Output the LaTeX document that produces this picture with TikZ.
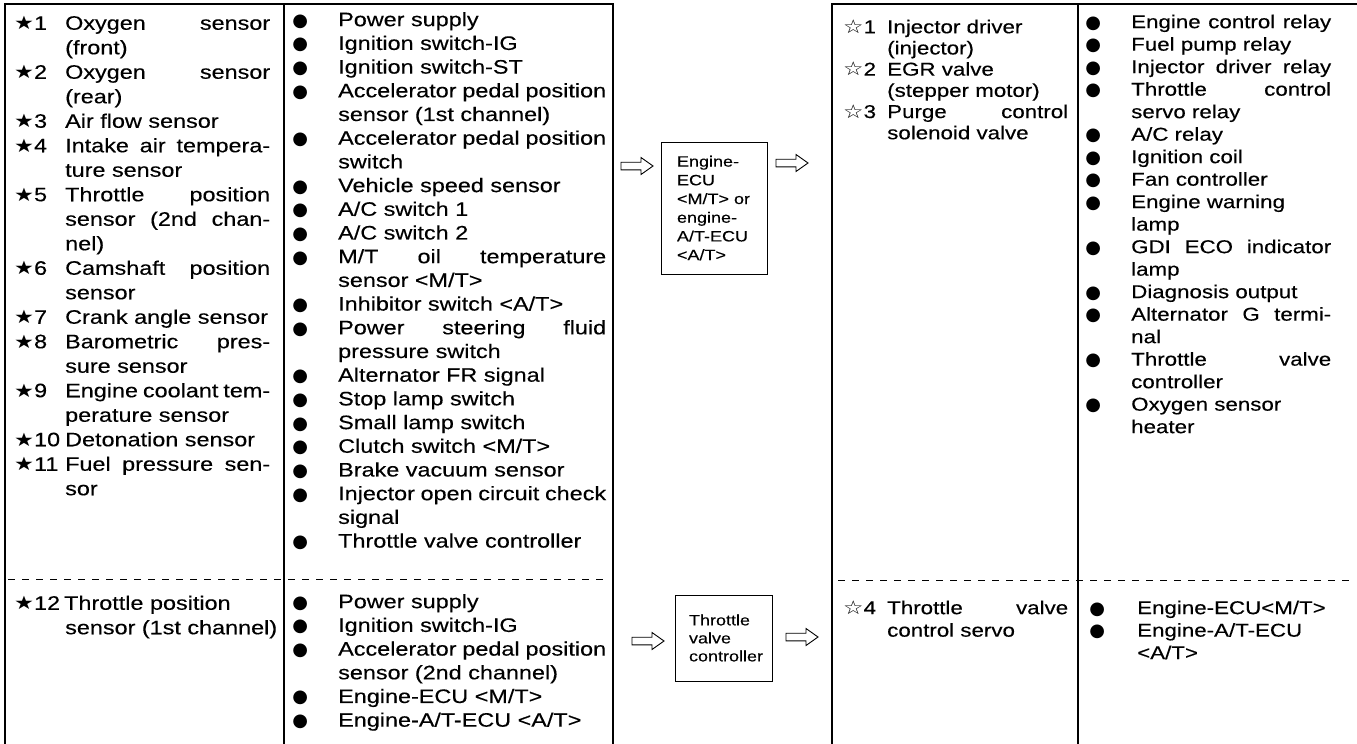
\documentclass[tikz,border=0pt]{standalone}
\usepackage{fontspec}
\setmainfont{Liberation Sans}[FakeStretch=1.2, FakeBold=0.3]
\newfontfamily\starfont{DejaVu Sans}[FakeStretch=1.2]
\newfontfamily\dotfont{DejaVu Sans}

% label column width and text column width of the current cell
\newlength\labw
\newlength\txtw
% justified line and ragged line: {label}{text}
\newcommand\jl[2]{\strut\makebox[\labw][l]{#1}\makebox[\txtw][s]{#2}}
\newcommand\rl[2]{\strut\makebox[\labw][l]{#1}\makebox[\txtw][l]{#2}}
\newcommand\bst[1]{{\starfont\fontsize{18.5}{18.5}\selectfont ★}#1}
\newcommand\wst[1]{{\starfont\fontsize{19}{19}\selectfont ☆}#1}
\newcommand\bul{\makebox[12pt][c]{\dotfont\fontsize{18}{18}\selectfont ●}}

\tikzset{
  cell/.style={anchor=north west, inner sep=0pt, align=left},
  bigtext/.style={font=\fontsize{19.5}{23.7}\selectfont},
  loosetext/.style={font=\fontsize{19.5}{24.5}\selectfont},
  smalltext/.style={font=\fontsize{18.6}{22.5}\selectfont},
  tighttext/.style={font=\fontsize{18.6}{21.2}\selectfont},
  rule/.style={line width=1.1pt},
  dashrule/.style={line width=1pt, dash pattern=on 7pt off 7pt},
  unitbox/.style={draw, line width=1pt, inner sep=0pt, align=left,
    font=\fontsize{15}{18.7}\selectfont},
  harrow/.pic={\draw[line width=0.9pt, line join=miter]
    (0,-3.8) -- (20,-3.8) -- (20,-8.5) -- (32,0) -- (20,8.5) -- (20,3.8) -- (0,3.8) -- cycle;},
}

\begin{document}
\begin{tikzpicture}[x=1pt, y=-1pt]
\useasboundingbox (0,0) rectangle (1357,744);

% ---------- input table ----------
\draw[rule] (5,744) -- (5,4) -- (613,4) -- (613,744);
\draw[rule] (284,4) -- (284,744);
\draw[dashrule] (8,579) -- (604,579);

% ---------- output table ----------
\draw[rule] (832,744) -- (832,4) -- (1357,4);
\draw[rule] (1078,4) -- (1078,744);
\draw[dashrule] (838,580) -- (1354,580);

% sensors
\setlength\labw{51pt}\setlength\txtw{205pt}
\node[cell, loosetext] (sensors) at (14,12.4) {%
\jl{\bst1}{Oxygen sensor}\\
\rl{}{(front)}\\
\jl{\bst2}{Oxygen sensor}\\
\rl{}{(rear)}\\
\rl{\bst3}{Air flow sensor}\\
\jl{\bst4}{Intake air tempera-}\\
\rl{}{ture sensor}\\
\jl{\bst5}{Throttle position}\\
\jl{}{sensor (2nd chan-}\\
\rl{}{nel)}\\
\jl{\bst6}{Camshaft position}\\
\rl{}{sensor}\\
\rl{\bst7}{Crank angle sensor}\\
\jl{\bst8}{Barometric pres-}\\
\rl{}{sure sensor}\\
\jl{\bst9}{Engine coolant tem-}\\
\rl{}{perature sensor}\\
\rl{\bst{10}}{Detonation sensor}\\
\jl{\bst{11}}{Fuel pressure sen-}\\
\rl{}{sor}};

% switches and signals
\setlength\labw{44pt}\setlength\txtw{268pt}
\node[cell, bigtext] (signals) at (294,9.4) {%
\rl{\bul}{Power supply}\\
\rl{\bul}{Ignition switch-IG}\\
\rl{\bul}{Ignition switch-ST}\\
\jl{\bul}{Accelerator pedal position}\\
\rl{}{sensor (1st channel)}\\
\jl{\bul}{Accelerator pedal position}\\
\rl{}{switch}\\
\rl{\bul}{Vehicle speed sensor}\\
\rl{\bul}{A/C switch 1}\\
\rl{\bul}{A/C switch 2}\\
\jl{\bul}{M/T oil temperature}\\
\rl{}{sensor <M/T>}\\
\rl{\bul}{Inhibitor switch <A/T>}\\
\jl{\bul}{Power steering fluid}\\
\rl{}{pressure switch}\\
\rl{\bul}{Alternator FR signal}\\
\rl{\bul}{Stop lamp switch}\\
\rl{\bul}{Small lamp switch}\\
\rl{\bul}{Clutch switch <M/T>}\\
\rl{\bul}{Brake vacuum sensor}\\
\jl{\bul}{Injector open circuit check}\\
\rl{}{signal}\\
\rl{\bul}{Throttle valve controller}};

% lower part of the input table
\setlength\labw{51pt}\setlength\txtw{205pt}
\node[cell, loosetext] (tpsone) at (14,592.4) {%
\strut\makebox[50pt][l]{\bst{12}}Throttle position\\
\rl{}{sensor (1st channel)}};

\setlength\labw{44pt}\setlength\txtw{268pt}
\node[cell, bigtext] (tvcin) at (294,591.4) {%
\rl{\bul}{Power supply}\\
\rl{\bul}{Ignition switch-IG}\\
\jl{\bul}{Accelerator pedal position}\\
\rl{}{sensor (2nd channel)}\\
\rl{\bul}{Engine-ECU <M/T>}\\
\rl{\bul}{Engine-A/T-ECU <A/T>}};

% ---------- control units ----------
\node[unitbox, minimum width=106pt, minimum height=132pt, text width=74pt]
  (ecu) at (714,208) {Engine-\\ECU\\\mbox{<M/T> or}\\engine-\\A/T-ECU\\<A/T>};
\node[unitbox, minimum width=97pt, minimum height=86pt, text width=69pt,
  font=\fontsize{15}{18}\selectfont]
  (tvc) at (723.5,638) {Throttle\\valve\\controller};

\pic at (621,166) {harrow};
\pic at (776,163) {harrow};
\pic at (632,641) {harrow};
\pic at (786,637) {harrow};

% actuators
\setlength\labw{44pt}\setlength\txtw{181pt}
\node[cell, tighttext] (actuators) at (843,18.2) {%
\rl{\wst1}{Injector driver}\\
\rl{}{(injector)}\\
\rl{\wst2}{EGR valve}\\
\rl{}{(stepper motor)}\\
\jl{\wst3}{Purge control}\\
\rl{}{solenoid valve}};

\setlength\labw{44pt}\setlength\txtw{200pt}
\node[cell, smalltext] (outputs) at (1087,12.2) {%
\jl{\bul}{Engine control relay}\\
\rl{\bul}{Fuel pump relay}\\
\jl{\bul}{Injector driver relay}\\
\jl{\bul}{Throttle control}\\
\rl{}{servo relay}\\
\rl{\bul}{A/C relay}\\
\rl{\bul}{Ignition coil}\\
\rl{\bul}{Fan controller}\\
\rl{\bul}{Engine warning}\\
\rl{}{lamp}\\
\jl{\bul}{GDI ECO indicator}\\
\rl{}{lamp}\\
\rl{\bul}{Diagnosis output}\\
\jl{\bul}{Alternator G termi-}\\
\rl{}{nal}\\
\jl{\bul}{Throttle valve}\\
\rl{}{controller}\\
\rl{\bul}{Oxygen sensor}\\
\rl{}{heater}};

% lower part of the output table
\setlength\labw{44pt}\setlength\txtw{181pt}
\node[cell, smalltext] (servo) at (843,598.2) {%
\jl{\wst4}{Throttle valve}\\
\rl{}{control servo}};

\setlength\labw{46pt}\setlength\txtw{200pt}
\node[cell, smalltext] (servoout) at (1091,598.2) {%
\rl{\bul}{Engine-ECU<M/T>}\\
\rl{\bul}{Engine-A/T-ECU}\\
\rl{}{<A/T>}};
\end{tikzpicture}
\end{document}
